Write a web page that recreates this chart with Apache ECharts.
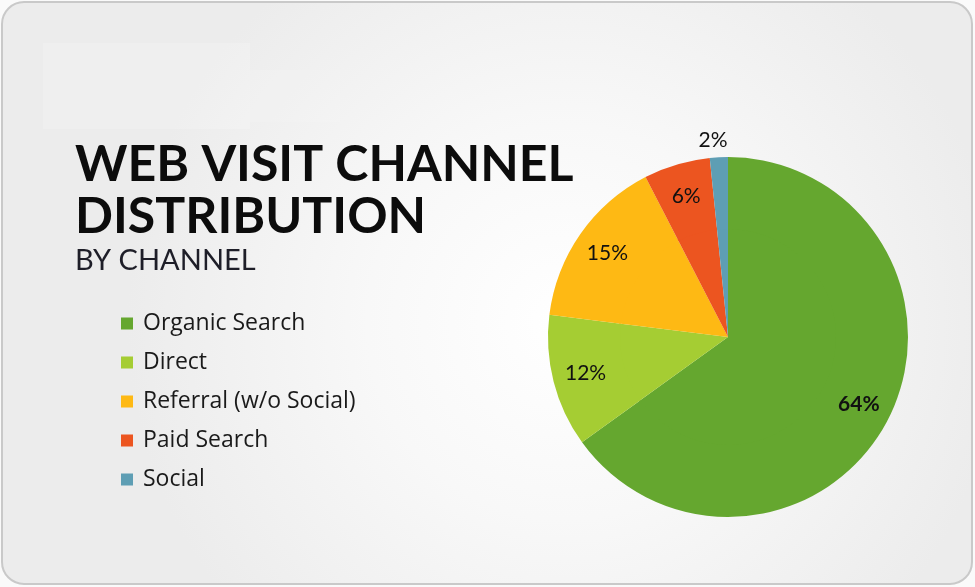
<!DOCTYPE html>
<html><head><meta charset="utf-8">
<script src="https://cdn.jsdelivr.net/npm/echarts@6/dist/echarts.min.js"></script>
<style>html,body{margin:0;padding:0;background:#fafafa;}#c{width:975px;height:587px;}</style>
</head><body><div id="c"></div>
<script>
const titleText = 'WEB VISIT CHANNEL\nDISTRIBUTION';
const subtitleText = 'BY CHANNEL';
const channels = ['Organic Search', 'Direct', 'Referral (w/o Social)', 'Paid Search', 'Social'];
const shares = [64.4, 11.8, 15.3, 5.9, 1.6];
const colors = ['#65a72f', '#a5cd33', '#feb914', '#ec5520', '#5e9eb4'];

const chart = echarts.init(document.getElementById('c'), null, {renderer: 'canvas'});
const ringData = channels.map((n, i) => {
  const d = {name: n, value: shares[i]};
  if (i === 0) d.label = {fontWeight: 'bold'};
  if (i === channels.length - 1) {
    d.label = {position: 'outside'};
    d.labelLine = {show: false, length: 17, length2: 0};
  }
  return d;
});
const coreData = channels.map((n, i) => ({name: n, value: shares[i]}));
const font = 'Lato, "Open Sans", "Noto Sans", sans-serif';
const legendFont = '"Open Sans", Lato, "Noto Sans", sans-serif';

chart.setOption({
  animation: false,
  color: colors,
  graphic: [
    {type: 'rect', z: -10, shape: {x: 2, y: 2, width: 970, height: 582, r: 22},
     style: {fill: {type: 'radial', x: 0.58, y: 0.55, r: 0.75,
       colorStops: [{offset: 0, color: '#ffffff'}, {offset: 0.45, color: '#f8f8f8'}, {offset: 1, color: '#ececec'}]},
       stroke: '#c9c9c9', lineWidth: 2}},
    {type: 'rect', z: -9, shape: {x: 43, y: 43, width: 207, height: 86},
     style: {fill: 'rgba(255,255,255,0.18)'}},
    {type: 'rect', z: -9, shape: {x: 250, y: 70, width: 90, height: 52},
     style: {fill: 'rgba(255,255,255,0.12)'}}
  ],
  title: {
    text: titleText, subtext: subtitleText,
    left: 70, top: 134, itemGap: 3,
    textStyle: {fontFamily: font, fontWeight: 'bold', fontSize: 50, lineHeight: 52, color: '#0c0c0c'},
    subtextStyle: {fontFamily: font, fontWeight: 'normal', fontSize: 29, color: '#1e1e28'}
  },
  legend: {
    orient: 'vertical', left: 116, top: 307, itemGap: 16,
    itemWidth: 12, itemHeight: 12, icon: 'rect',
    data: channels,
    textStyle: {fontFamily: legendFont, fontSize: 23, color: '#1a1a1a', padding: [0, 0, 0, 5]}
  },
  series: [
    {type: 'pie', name: 'core', center: [728, 337], radius: [0, 110], startAngle: 90, clockwise: true,
     silent: true, data: coreData, label: {show: false}, labelLine: {show: false},
     itemStyle: {borderWidth: 0}},
    {type: 'pie', name: 'ring', center: [728, 337], radius: [108, 180], startAngle: 90, clockwise: true,
     data: ringData, avoidLabelOverlap: false,
     itemStyle: {borderWidth: 0},
     label: {show: true, position: 'inside', fontFamily: font, fontSize: 21, color: '#111',
             formatter: p => Math.round(p.value) + '%'},
     labelLine: {show: false},
     labelLayout: p => (p.dataIndex === channels.length - 1 ? {align: 'center'} : {})}
  ]
});
</script></body></html>
